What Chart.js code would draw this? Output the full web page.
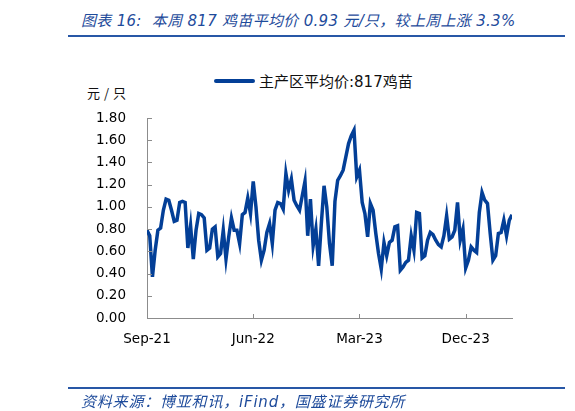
<!DOCTYPE html>
<html>
<head>
<meta charset="utf-8">
<script src="https://cdn.jsdelivr.net/npm/chart.js@4.4.1/dist/chart.umd.min.js"></script>
<style>
  body { margin: 0; background: #fff; }
  #wrap { position: relative; width: 575px; height: 411px; overflow: hidden; }
  #chart { position: absolute; left: 0; top: 0; }
  .note { position: absolute; font-family: "DejaVu Sans", "Noto Sans CJK SC", sans-serif; font-style: italic; color: #1e4b9b; font-size: 15px; white-space: pre; }
  .rule { position: absolute; left: 68px; width: 497px; height: 2px; background: #2857a6; }
  #unit { position: absolute; left: 87px; top: 83px; font-family: "Noto Sans CJK SC", sans-serif; font-size: 13px; letter-spacing: 4px; color: #111; }
  #legend { position: absolute; left: 214px; top: 70px; height: 20px; font-family: "DejaVu Sans", "Noto Sans CJK SC", sans-serif; font-size: 15px; color: #111; white-space: nowrap; }
  #legend .swatch { display: inline-block; width: 41px; height: 4px; border-radius: 2px; vertical-align: middle; margin-right: 4px; position: relative; top: -2px; }
</style>
</head>
<body>
<div id="wrap">
  <div class="note" id="title" style="left:81px; top:9px; letter-spacing:0.3px;">图表 16:  本周 817 鸡苗平均价 0.93 元/只，较上周上涨 3.3%</div>
  <div class="rule" style="top:35px;"></div>
  <div id="legend"></div>
  <div id="unit">元/只</div>
  <canvas id="chart" width="575" height="411"></canvas>
  <div class="rule" style="top:387px;"></div>
  <div class="note" id="source" style="left:81px; top:390px; letter-spacing:0.8px;">资料来源：博亚和讯，iFind，国盛证券研究所</div>
</div>
<script>
// weekly average price, Sep-21 .. Apr-24 (yuan per chick)
const seriesName = '主产区平均价:817鸡苗';
const prices = [
  0.79, 0.74, 0.37, 0.61, 0.79, 0.81, 0.97, 1.07, 1.06, 0.97,
  0.87, 0.88, 1.04, 1.05, 1.04, 0.63, 0.83, 0.53, 0.79, 0.94,
  0.93, 0.90, 0.61, 0.63, 0.80, 0.82, 0.55, 0.58, 0.79, 0.53,
  0.73, 0.90, 0.79, 0.79, 0.67, 0.93, 0.95, 1.08, 0.94, 1.23,
  1.00, 0.70, 0.52, 0.61, 0.77, 0.85, 0.67, 0.97, 1.04, 1.03,
  0.98, 1.30, 1.15, 1.25, 1.06, 1.01, 0.97, 1.10, 1.23, 0.74,
  1.07, 0.65, 0.80, 0.47, 0.85, 1.19, 1.00, 0.67, 0.47, 1.05,
  1.24, 1.28, 1.33, 1.45, 1.57, 1.64, 1.69, 1.27, 1.33, 1.04,
  0.94, 0.73, 1.03, 0.97, 0.76, 0.58, 0.44, 0.68, 0.56, 0.68,
  0.70, 0.82, 0.83, 0.43, 0.46, 0.50, 0.52, 0.74, 0.61, 0.95,
  0.94, 0.54, 0.56, 0.70, 0.77, 0.75, 0.70, 0.66, 0.64, 0.74,
  0.92, 0.71, 0.73, 0.79, 1.04, 0.70, 0.80, 0.45, 0.52, 0.64,
  0.61, 0.59, 0.95, 1.13, 1.06, 1.03, 0.76, 0.52, 0.56, 0.76,
  0.77, 0.88, 0.74, 0.88, 0.93
];
// x tick labels and the week index each one sits on
const tickLabels = ['Sep-21', 'Jun-22', 'Mar-23', 'Dec-23'];
const tickWeeks = [0, 39, 78, 117];
const yMin = 0, yMax = 1.8, yStep = 0.2;

const lineColor = '#033f97';
const axisColor = '#8c8c8c';
const tickFont = { family: 'DejaVu Sans', size: 13.5 };

document.getElementById('legend').innerHTML =
  '<span class="swatch" style="background:' + lineColor + '"></span>' + seriesName;

// Excel style tick marks that point into the plot
const innerTicks = {
  id: 'innerTicks',
  afterDraw(chart) {
    const ctx = chart.ctx;
    const area = chart.chartArea;
    const x = chart.scales.x, y = chart.scales.y;
    ctx.save();
    ctx.strokeStyle = axisColor;
    ctx.lineWidth = 1;
    ctx.beginPath();
    y.ticks.forEach((t, i) => {
      const py = Math.round(y.getPixelForTick(i)) + 0.5;
      ctx.moveTo(area.left, py);
      ctx.lineTo(area.left + 5, py);
    });
    tickWeeks.forEach(w => {
      const px = Math.round(x.getPixelForValue(w)) + 0.5;
      ctx.moveTo(px, area.bottom);
      ctx.lineTo(px, area.bottom - 4);
    });
    ctx.stroke();
    ctx.restore();
  }
};

new Chart(document.getElementById('chart'), {
  type: 'line',
  data: {
    datasets: [{
      label: seriesName,
      data: prices.map((v, i) => ({ x: i, y: v })),
      borderColor: lineColor,
      borderWidth: 3.5,
      pointRadius: 0,
      tension: 0,
      fill: false
    }]
  },
  options: {
    responsive: false,
    animation: false,
    layout: { padding: { left: 87, right: 63, top: 118, bottom: 63 } },
    plugins: { legend: { display: false }, tooltip: { enabled: false } },
    scales: {
      x: {
        type: 'linear',
        min: 0,
        max: prices.length - 1,
        grid: { display: false, drawTicks: false },
        border: { display: true, color: axisColor, width: 1 },
        afterBuildTicks: s => { s.ticks = tickWeeks.map(v => ({ value: v })); },
        afterFit: s => { s.height = 30; },
        ticks: {
          padding: 13,
          color: '#000',
          font: tickFont,
          maxRotation: 0,
          autoSkip: false,
          callback: v => tickLabels[tickWeeks.indexOf(v)]
        }
      },
      y: {
        min: yMin,
        max: yMax,
        grid: { display: false, drawTicks: false },
        border: { display: true, color: axisColor, width: 1 },
        afterFit: s => { s.width = 60; },
        ticks: {
          stepSize: yStep,
          padding: 21,
          color: '#000',
          font: tickFont,
          callback: v => v.toFixed(2)
        }
      }
    }
  },
  plugins: [innerTicks]
});
</script>
</body>
</html>
